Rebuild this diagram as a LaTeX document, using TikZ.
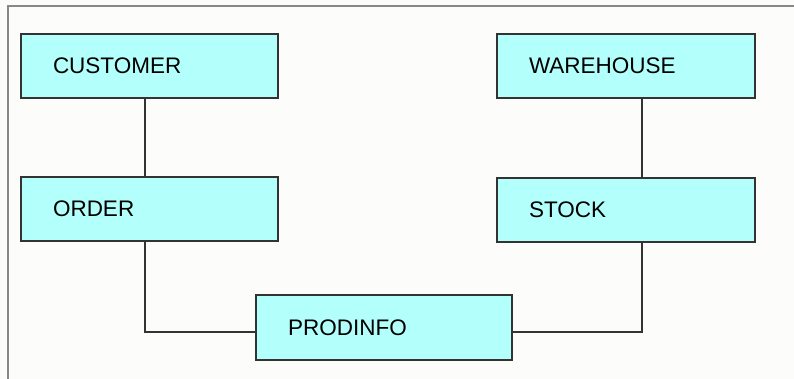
\documentclass[tikz,border=0pt]{standalone}
\usepackage{fontspec}
\setmainfont{Liberation Sans}
\usetikzlibrary{calc,positioning}
\definecolor{boxfill}{HTML}{B3FFFB}
\definecolor{boxline}{HTML}{333333}
\definecolor{framegray}{HTML}{888888}
\definecolor{paper}{HTML}{FCFDFB}

\begin{document}
\begin{tikzpicture}[x=1pt, y=-1pt,
    entity/.style={draw=boxline, line width=1.6pt, fill=boxfill,
        minimum height=64pt, inner xsep=32pt, inner ysep=0pt,
        text width=#1, align=left, font=\fontsize{22.5}{24}\selectfont},
    entity/.default=193pt,
    link/.style={draw=boxline, line width=1.6pt}]
\useasboundingbox (0,0) rectangle (794,379);
\fill[paper] (0,0) rectangle (794,379);
\draw[framegray, line width=2.5pt] (8,379) -- (8,6) -- (794,6);

% entities
\node[entity] (customer) at (149.5,66) {CUSTOMER};
\node[entity] (order) at (149.5,209) {ORDER};
\node[entity=194pt] (warehouse) at (626,66) {WAREHOUSE};
\node[entity=194pt] (stock) at (626,210) {STOCK};
\node[entity=192pt, minimum height=65pt] (prodinfo) at (384,327.5) {PRODINFO};

% bends
\coordinate (lbend) at (145,332);
\coordinate (rbend) at (642,332);

% links
\draw[link] (customer.south -| lbend) -- (order.north -| lbend);
\draw[link] (order.south -| lbend) -- (lbend) -- (lbend -| prodinfo.west);
\draw[link] (warehouse.south -| rbend) -- (stock.north -| rbend);
\draw[link] (stock.south -| rbend) -- (rbend) -- (rbend -| prodinfo.east);
\end{tikzpicture}
\end{document}
